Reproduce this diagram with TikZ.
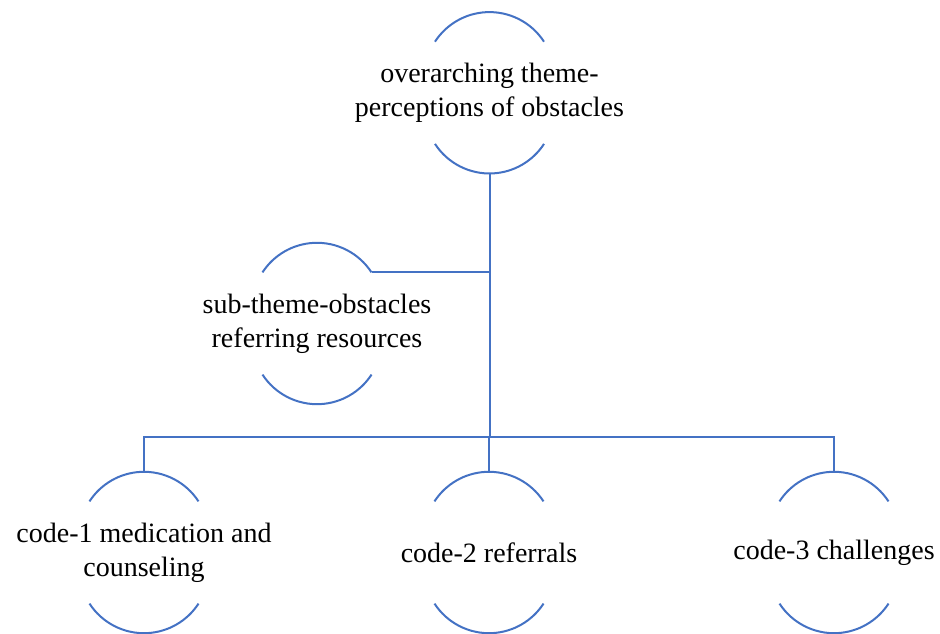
\documentclass[tikz,border=0pt]{standalone}
\usepackage{fontspec}
\setmainfont{Liberation Serif}
\usetikzlibrary{calc}
\definecolor{lineblue}{RGB}{68,114,196}
\tikzset{
  ring/.style={circle, minimum size=161pt, inner sep=0pt, draw=none},
  caption/.style={font=\fontsize{28}{34}\selectfont, align=center, text=black, inner sep=0pt},
  arcline/.style={draw=lineblue, line width=2pt},
  conn/.style={draw=lineblue, line width=2pt}
}
\begin{document}
\begin{tikzpicture}[x=1pt,y=1pt]
  \useasboundingbox (0,0) rectangle (940,634);

  % invisible circular frames; only their top and bottom arcs are drawn
  \node[ring] (top) at (489.5,541.2) {};
  \node[ring] (sub) at (317,310.5) {};
  \node[ring] (c1)  at (144,81.5) {};
  \node[ring] (c2)  at (489,81.5) {};
  \node[ring] (c3)  at (834,81.5) {};

  \foreach \n in {top,sub,c1,c2,c3} {
    \draw[arcline] ($(\n.center)+(54.5,51.1)$) arc[start angle=33, end angle=147, radius=65];
    \draw[arcline] ($(\n.center)+(-54.5,-51.1)$) arc[start angle=213, end angle=327, radius=65];
  }

  % texts
  \node[caption] (ttop) at (top.center) {overarching theme-\\perceptions of obstacles};
  \node[caption] (tsub) at (sub.center) {sub-theme-obstacles\\referring resources};
  \node[caption] (tc1)  at (c1.center) {code-1 medication and\\counseling};
  \node[caption] (tc2)  at (c2.center) {code-2 referrals};
  \node[caption] (tc3)  at (c3.center) {code-3 challenges};

  % connectors
  \coordinate (bus) at ($(top.south |- 0,197)$);
  \coordinate (subR) at ($(sub.center)+(54.5,51.1)$);
  \draw[conn] (top.south) -- (bus);
  \draw[conn] (subR) -- (subR -| top.south);
  \draw[conn] (c1.north) |- (bus) -| (c3.north);
  \draw[conn] (c2.north) -- (c2.north |- bus);
\end{tikzpicture}
\end{document}
